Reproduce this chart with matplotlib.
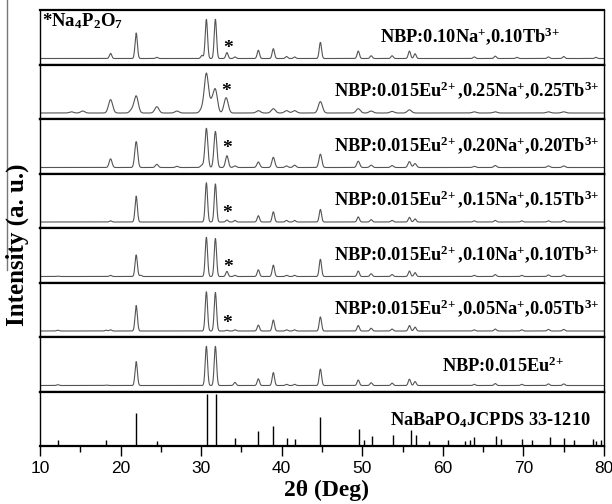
import numpy as np
import matplotlib
matplotlib.use("Agg")
import matplotlib.pyplot as plt
from matplotlib.lines import Line2D

plt.rcParams['mathtext.fontset'] = 'custom'
plt.rcParams['mathtext.rm'] = 'Liberation Serif:bold'
plt.rcParams['mathtext.it'] = 'Liberation Serif:bold'
plt.rcParams['mathtext.bf'] = 'Liberation Serif:bold'

# ---------------- data ----------------
# Reference pattern NaBaPO4 JCPDS 33-1210: stick positions (2theta) and relative intensities
ref_pos = [12.18, 18.23, 21.96, 24.52, 30.67, 31.83, 34.2, 37.06, 38.95, 40.6, 41.61, 44.76,
           49.65, 50.23, 51.2, 53.76, 55.99, 56.67, 58.26, 60.68, 62.77, 63.35, 63.88, 66.54,
           67.17, 69.83, 71.04, 73.27, 75.06, 76.32, 78.64, 79.03, 79.61]
ref_int = [12, 12, 63, 10, 100, 100, 16, 29, 39, 15, 14, 55,
           32, 11, 19, 22, 31, 22, 10, 11, 10, 11, 18, 20,
           13, 14, 12, 18, 16, 12, 13, 10, 12]

# Measured patterns: peak positions and relative heights per sample (top to bottom)
p1_pos = [18.76, 21.94, 24.5, 30.1, 30.65, 31.77, 33.2, 34.2, 37.1, 38.96, 40.6, 41.6, 44.8,
          49.5, 51.1, 53.7, 55.85, 56.55, 63.9, 66.5, 69.2, 73.1, 75.0, 79.0]
p1_int = [13, 65, 3, 8, 100, 100, 15, 4, 21, 25, 5, 4, 41,
          19, 7, 7, 19, 12, 4, 6, 3, 4, 5, 3]

p2_pos = [13.9, 15.3, 18.76, 21.4, 21.94, 24.5, 27.0, 30.1, 30.65, 31.3, 31.77, 33.1, 37.1,
          38.96, 40.6, 41.6, 44.8, 49.5, 51.1, 53.7, 55.85, 63.9, 66.5, 73.1, 75.0]
p2_int = [3, 5, 34, 8, 43, 16, 5, 10, 100, 25, 57, 39, 6,
          11, 6, 6, 29, 11, 5, 4, 8, 3, 3, 3, 3]

p3_pos = [18.76, 21.94, 24.5, 27.0, 30.1, 30.65, 31.77, 33.2, 34.2, 37.1, 38.96, 40.6, 41.6,
          44.8, 49.5, 51.1, 53.7, 55.85, 56.55, 63.9, 66.5, 73.1, 75.0]
p3_int = [22, 66, 8, 3, 6, 100, 92, 30, 4, 14, 26, 4, 6,
          34, 16, 6, 5, 15, 10, 3, 5, 4, 4]

p4_pos = [18.76, 21.94, 30.65, 31.77, 33.2, 34.2, 37.1, 38.96, 40.6, 41.6, 44.8,
          49.5, 51.1, 53.7, 55.85, 56.55, 63.9, 66.5, 69.8, 73.1, 75.0]
p4_int = [3, 66, 100, 97, 5, 4, 16, 26, 4, 4, 32,
          13, 6, 4, 12, 8, 3, 4, 3, 3, 4]

p5_pos = [12.2, 18.76, 21.94, 22.5, 30.65, 31.77, 33.2, 34.2, 37.1, 38.96, 40.6, 41.6, 44.8,
          49.5, 51.1, 53.7, 55.85, 56.55, 63.9, 66.5, 69.8, 73.1, 75.0]
p5_int = [1, 3, 55, 3, 100, 97, 13, 3, 17, 29, 3, 3, 44,
          14, 7, 5, 14, 10, 3, 5, 3, 4, 4]

p6_pos = [12.2, 18.2, 18.76, 21.94, 30.65, 31.77, 33.2, 34.2, 37.1, 38.96, 40.6, 41.6, 44.8,
          49.5, 51.1, 53.7, 55.85, 56.55, 63.9, 66.5, 69.8, 73.1, 75.0]
p6_int = [2, 2, 3, 65, 100, 98, 2, 3, 15, 28, 3, 3, 36,
          14, 7, 5, 14, 10, 3, 5, 3, 4, 4]

p7_pos = [12.2, 18.2, 21.94, 30.65, 31.77, 34.2, 37.1, 38.96, 40.6, 41.6, 44.8,
          49.5, 51.1, 53.7, 55.85, 56.55, 63.9, 66.5, 69.8, 73.1, 75.0]
p7_int = [2, 1, 61, 100, 100, 8, 17, 33, 3, 3, 42,
          14, 7, 6, 16, 10, 3, 5, 3, 4, 4]

patterns = [(p1_pos, p1_int), (p2_pos, p2_int), (p3_pos, p3_int), (p4_pos, p4_int),
            (p5_pos, p5_int), (p6_pos, p6_int), (p7_pos, p7_int)]
peak_fwhm = [0.34, 0.6, 0.42, 0.34, 0.34, 0.34, 0.34]

labels = [r"NBP:0.10Na$^{+}$,0.10Tb$^{3\!+}$",
          r"NBP:0.015Eu$^{2\!+}$,0.25Na$^{+}$,0.25Tb$^{3\!+}$",
          r"NBP:0.015Eu$^{2\!+}$,0.20Na$^{+}$,0.20Tb$^{3\!+}$",
          r"NBP:0.015Eu$^{2\!+}$,0.15Na$^{+}$,0.15Tb$^{3\!+}$",
          r"NBP:0.015Eu$^{2\!+}$,0.10Na$^{+}$,0.10Tb$^{3\!+}$",
          r"NBP:0.015Eu$^{2\!+}$,0.05Na$^{+}$,0.05Tb$^{3\!+}$",
          r"NBP:0.015Eu$^{2\!+}$",
          r"NaBaPO$_{4}$JCPDS 33-1210"]
star_pos = [33.3, 33.15, 33.25, 33.25, 33.3, 33.2]
star_y = [0.30, 0.50, 0.46, 0.26, 0.28, 0.24]

xticks = [10, 20, 30, 40, 50, 60, 70, 80]

# ---------------- figure ----------------
fig = plt.figure(figsize=(6.12, 5.04), dpi=100)
left, right = 40 / 612, 604 / 612
top, bottom = 1 - 10 / 504, 1 - 446 / 504
n = 8
h = (top - bottom) / n
serif = 'Liberation Serif'

x = np.linspace(10, 80, 3500)
label_x = [470, 467, 467, 467, 467, 467, 503, 490]
label_y = [0.52, 0.53, 0.53, 0.53, 0.53, 0.53, 0.47, 0.47]

axes = []
for i in range(n):
    ax = fig.add_axes([left, top - (i + 1) * h, right - left, h])
    ax.set_xlim(10, 80)
    ax.set_ylim(0, 1)
    ax.set_yticks([])
    for s in ['top', 'bottom']:
        ax.spines[s].set_linewidth(1.6)
    for s in ['left', 'right']:
        ax.spines[s].set_linewidth(1.0)
    if i < 7:
        pos, inten = patterns[i]
        sig = peak_fwhm[i] / 2.3548
        y = np.zeros_like(x)
        for p, a in zip(pos, inten):
            y += a * np.exp(-0.5 * ((x - p) / sig) ** 2)
        base = 0.11
        ax.plot(x, base + y / 100 * 0.72, color='#555555', lw=0.8)
        ax.set_xticks([])
        if i < 6:
            ax.text(star_pos[i], star_y[i], '*', fontsize=14, fontweight='bold',
                    family=serif, ha='center', va='center')
    else:
        ax.vlines(ref_pos, 0, np.array(ref_int) / 100 * 0.955, color='black', lw=1.0)
        ax.set_xticks(xticks)
        ax.set_xticks(np.arange(15, 80, 10), minor=True)
        ax.tick_params(axis='x', which='major', direction='out', length=7, width=1.0,
                       labelsize=12.5)
        ax.tick_params(axis='x', which='minor', direction='out', length=4, width=1.0)
        for lab in ax.get_xticklabels():
            lab.set_family('Liberation Sans')
    lx = (label_x[i] - 40) / 564
    ax.text(lx, label_y[i], labels[i], transform=ax.transAxes, ha='center',
            va='center', fontsize=13.2, fontweight='bold', family=serif)
    axes.append(ax)

axes[0].text(0.004, 0.97, r"*Na$_{4}$P$_{2}$O$_{7}$", transform=axes[0].transAxes,
             ha='left', va='top', fontsize=13.5, fontweight='bold', family=serif)

fig.text(326 / 612, 1 - 490 / 504, "2θ (Deg)", ha='center', va='center',
         fontsize=17, fontweight='bold', family=serif)

fig.text(17 / 612, 1 - 245 / 504, "Intensity (a. u.)", rotation=90, ha='center',
         va='center', fontsize=18, fontweight='bold', family=serif)

fig.add_artist(Line2D([7 / 612, 7 / 612], [1.0, 1 - 270 / 504], transform=fig.transFigure,
                      color='#777777', lw=1.0))

fig.savefig('out.png', dpi=100)
